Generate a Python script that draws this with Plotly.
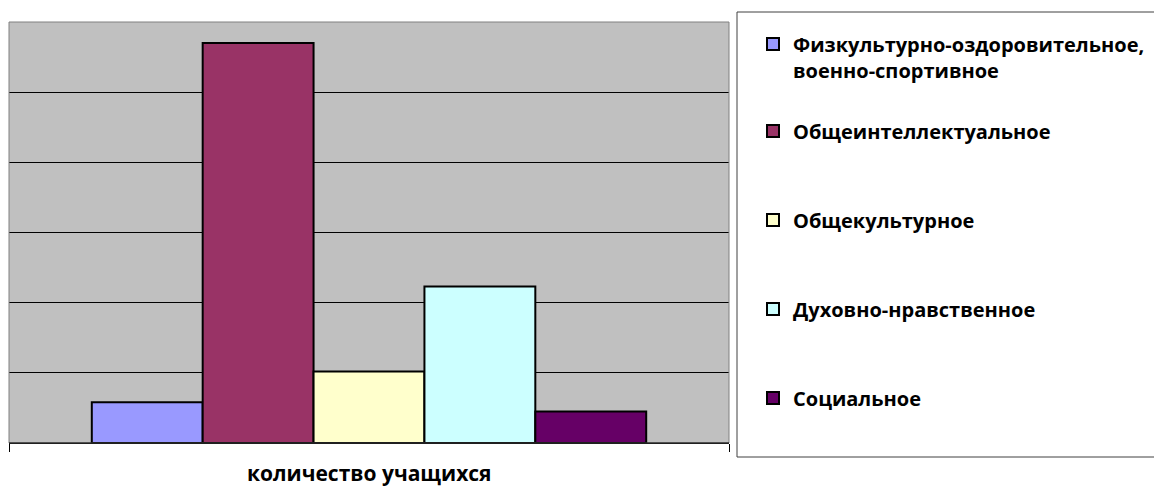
import plotly.graph_objects as go

categories = ["количество учащихся"]
series_names = [
    "Физкультурно-оздоровительное,<br>военно-спортивное",
    "Общеинтеллектуальное",
    "Общекультурное",
    "Духовно-нравственное",
    "Социальное",
]
series_values = [5.8, 57, 10.2, 22.3, 4.5]
series_colors = ["#9999FF", "#993366", "#FFFFCC", "#CCFFFF", "#660066"]

OFF = 8  # default page body margin
W, H = 1162 - OFF, 489 - OFF
L, R, T, B = 9 - OFF, 729 - OFF, 22 - OFF, 443 - OFF
PW, PH = R - L, B - T

def px_x(x):
    return (x - OFF - L) / PW

def px_y(y):
    return (B - (y - OFF)) / PH

legend_names = ["legend", "legend2", "legend3", "legend4", "legend5"]
legend_centers = [57, 131, 220, 309, 398]

fig = go.Figure()
for i, (name, val, col) in enumerate(zip(series_names, series_values, series_colors)):
    fig.add_trace(go.Bar(
        x=[0], y=[val], name=name,
        marker=dict(color=col, line=dict(color="black", width=2)),
        legend=legend_names[i],
    ))

font_family = "Open Sans, Liberation Sans, sans-serif"
legend_font = dict(family=font_family, size=20, color="black", weight="bold")

layout_legends = {}
for i, ln in enumerate(legend_names):
    layout_legends[ln] = dict(
        x=px_x(753), xanchor="left",
        y=px_y(legend_centers[i]), yanchor="middle",
        font=legend_font, bgcolor="rgba(0,0,0,0)", borderwidth=0,
        valign="top", itemclick=False, itemdoubleclick=False,
    )

fig.update_layout(
    width=W, height=H,
    margin=dict(l=L, r=W - R, t=T, b=H - B),
    paper_bgcolor="white", plot_bgcolor="#C0C0C0",
    barmode="group", bargap=0.23, bargroupgap=0,
    showlegend=True,
    **layout_legends,
    xaxis=dict(
        range=[-0.5, 0.5], showticklabels=False, showgrid=False,
        tickmode="array", tickvals=[-0.5, 0.5], ticks="outside", ticklen=8,
        tickcolor="black", showline=True, linecolor="black", linewidth=1,
        zeroline=False, type="linear",
    ),
    yaxis=dict(
        range=[0, 60], dtick=10, showticklabels=False, showgrid=True,
        gridcolor="black", gridwidth=1, zeroline=False, showline=False,
    ),
    shapes=[
        dict(type="rect", xref="paper", yref="paper", x0=0, x1=1, y0=0, y1=1,
             line=dict(color="#808080", width=1), fillcolor="rgba(0,0,0,0)", layer="above"),
        dict(type="line", xref="paper", yref="paper", x0=0, x1=1, y0=0, y1=0,
             line=dict(color="black", width=1), layer="above"),
        dict(type="rect", xref="paper", yref="paper",
             x0=px_x(737), x1=px_x(1161), y0=px_y(457), y1=px_y(12),
             line=dict(color="#404040", width=1), fillcolor="rgba(0,0,0,0)"),
    ],
    annotations=[
        dict(text="<b>" + categories[0] + "</b>", xref="paper", yref="paper",
             x=0.5, y=0, yshift=-30, xanchor="center", yanchor="middle",
             showarrow=False, font=dict(family=font_family, size=21, color="black")),
    ],
)

fig.write_html("out.html")
